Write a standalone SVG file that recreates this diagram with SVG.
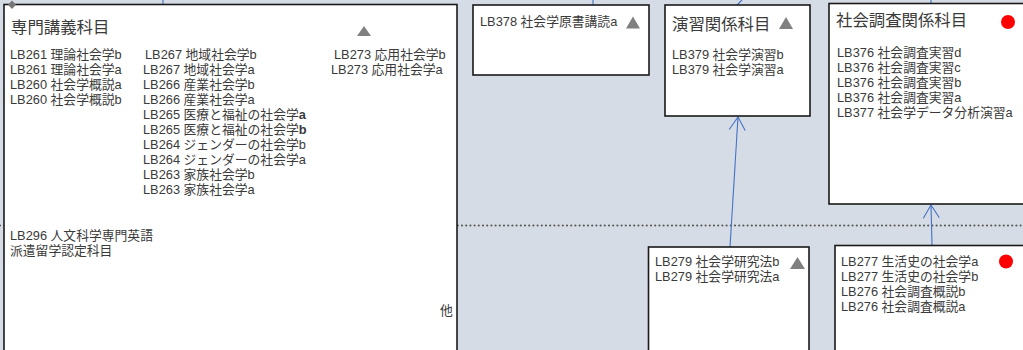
<svg xmlns="http://www.w3.org/2000/svg" width="1023" height="350" viewBox="0 0 1023 350">
<style>
  .box { fill: #ffffff; stroke: #1a1a1a; stroke-width: 1.6; }
  .t { font-family: "Liberation Sans", "Noto Sans CJK JP", sans-serif; font-size: 12.8px; fill: #3a3a3a; }
  .title { font-family: "Noto Sans CJK JP", "Noto Sans", sans-serif; font-size: 16.4px; fill: #3a3a3a; }
  .tri { fill: #808080; }
  .dot { fill: #ff0000; }
  .conn { stroke: #4472C4; stroke-width: 1.1; fill: none; }
  .b { font-weight: bold; }
</style>
<defs>
  <marker id="open" markerUnits="userSpaceOnUse" markerWidth="20" markerHeight="20" refX="13" refY="8" orient="auto" overflow="visible">
    <path d="M0,0 L13,8 L0,16" fill="none" stroke="#4472C4" stroke-width="1.1"/>
  </marker>
</defs>
<rect x="0" y="0" width="1023" height="350" fill="#D6DCE5"/>
<line x1="0" y1="225.5" x2="1023" y2="225.5" stroke="#595959" stroke-width="2.2" stroke-linecap="round" stroke-dasharray="0 4.2"/>

<g id="connectors">
  <line class="conn" x1="163" y1="0" x2="163" y2="4"/>
  <line class="conn" x1="593" y1="0" x2="593" y2="5"/>
  <line class="conn" x1="742" y1="0" x2="737" y2="5"/>
  <line class="conn" x1="931" y1="0" x2="931" y2="3"/>
  <line class="conn" x1="730" y1="247" x2="738" y2="117" marker-end="url(#open)"/>
  <line class="conn" x1="932" y1="245" x2="931" y2="205" marker-end="url(#open)"/>
</g>

<g id="node-senmon">
  <rect class="box" x="4" y="4.5" width="453" height="360"/>
  <path d="M12,0.5 L16,4.7 L12,9 L8,4.7 Z" fill="#777777"/>
  <text class="title" x="11" y="33">専門講義科目</text>
  <path class="tri" d="M357,36 L371,36 L364,26 Z"/>
  <text class="t" x="10" y="59">LB261 理論社会学b</text>
  <text class="t" x="10" y="74">LB261 理論社会学a</text>
  <text class="t" x="10" y="89">LB260 社会学概説a</text>
  <text class="t" x="10" y="104">LB260 社会学概説b</text>
  <text class="t" x="145" y="59">LB267 地域社会学b</text>
  <text class="t" x="143" y="74">LB267 地域社会学a</text>
  <text class="t" x="143" y="89">LB266 産業社会学b</text>
  <text class="t" x="143" y="104">LB266 産業社会学a</text>
  <text class="t" x="143" y="119">LB265 医療と福祉の社会学<tspan class="b">a</tspan></text>
  <text class="t" x="143" y="134">LB265 医療と福祉の社会学<tspan class="b">b</tspan></text>
  <text class="t" x="143" y="149">LB264 ジェンダーの社会学b</text>
  <text class="t" x="143" y="164">LB264 ジェンダーの社会学a</text>
  <text class="t" x="143" y="179">LB263 家族社会学b</text>
  <text class="t" x="143" y="194">LB263 家族社会学a</text>
  <text class="t" x="334" y="59">LB273 応用社会学b</text>
  <text class="t" x="331" y="74">LB273 応用社会学a</text>
  <text class="t" x="10" y="240">LB296 人文科学専門英語</text>
  <text class="t" x="10" y="255">派遣留学認定科目</text>
  <text class="t" x="440" y="315">他</text>
</g>

<g id="node-lb378">
  <rect class="box" x="473" y="5" width="176" height="70"/>
  <text class="t" x="480" y="26">LB378 社会学原書講読a</text>
  <path class="tri" d="M626,28.5 L640,28.5 L633,16.5 Z"/>
</g>

<g id="node-enshu">
  <rect class="box" x="665" y="5" width="145" height="111"/>
  <text class="title" x="672" y="29.5">演習関係科目</text>
  <path class="tri" d="M779,29 L793,29 L786,17 Z"/>
  <text class="t" x="672" y="58.5">LB379 社会学演習b</text>
  <text class="t" x="672" y="74">LB379 社会学演習a</text>
</g>

<g id="node-chosa">
  <rect class="box" x="829" y="3.5" width="200" height="200.5"/>
  <text class="title" x="836" y="25.5">社会調査関係科目</text>
  <circle class="dot" cx="1008" cy="22" r="7"/>
  <text class="t" x="837" y="57">LB376 社会調査実習d</text>
  <text class="t" x="837" y="72">LB376 社会調査実習c</text>
  <text class="t" x="837" y="87">LB376 社会調査実習b</text>
  <text class="t" x="837" y="102">LB376 社会調査実習a</text>
  <text class="t" x="837" y="117">LB377 社会学データ分析演習a</text>
</g>

<g id="node-lb279">
  <rect class="box" x="648.5" y="247" width="160.5" height="120"/>
  <text class="t" x="655" y="266">LB279 社会学研究法b</text>
  <text class="t" x="655" y="281">LB279 社会学研究法a</text>
  <path class="tri" d="M790,269 L805,269 L797.5,257 Z"/>
</g>

<g id="node-lb277">
  <rect class="box" x="835" y="245.5" width="200" height="120"/>
  <text class="t" x="841" y="265.5">LB277 生活史の社会学a</text>
  <text class="t" x="841" y="280.5">LB277 生活史の社会学b</text>
  <text class="t" x="841" y="295.5">LB276 社会調査概説b</text>
  <text class="t" x="841" y="310.5">LB276 社会調査概説a</text>
  <circle class="dot" cx="1006" cy="261.5" r="7"/>
</g>
</svg>
